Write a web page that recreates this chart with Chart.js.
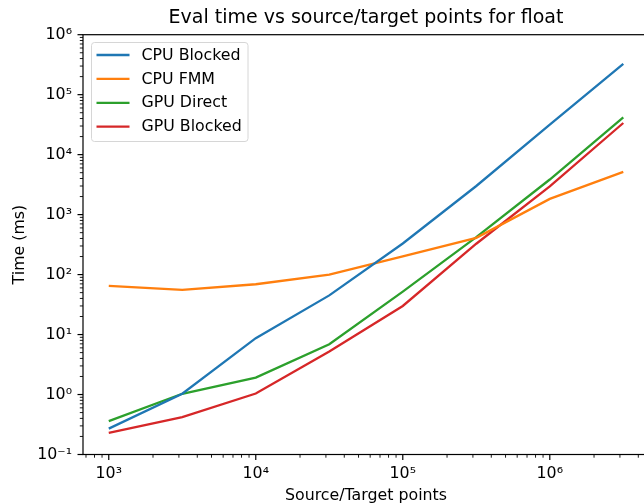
<!DOCTYPE html>
<html>
<head>
<meta charset="utf-8">
<script src="https://cdn.jsdelivr.net/npm/chart.js@4"></script>
<style>
    html, body { margin: 0; padding: 0; background: #ffffff; overflow: hidden; }
    #wrap { width: 650px; height: 504px; }
</style>
</head>
<body>
<div id="wrap"><canvas id="evalChart" width="650" height="504"></canvas></div>
<script>
// Source/target points (x) and eval times in ms for each method
const points = [1000, 3162, 10000, 31623, 100000, 316228, 1000000, 3162278];
const cpuBlocked = [0.27, 1.03, 8.7, 45, 330, 3000, 31600, 325000];
const cpuFmm = [65, 55.6, 69, 100, 202, 410, 1830, 5150];
const gpuDirect = [0.36, 1.03, 1.92, 6.9, 52, 422, 3850, 41900];
const gpuBlocked = [0.23, 0.42, 1.04, 5.2, 30, 327, 2950, 33700];

const seriesNames = ['CPU Blocked', 'CPU FMM', 'GPU Direct', 'GPU Blocked'];
const seriesValues = [cpuBlocked, cpuFmm, gpuDirect, gpuBlocked];
const seriesColors = ['#1f77b4', '#ff7f0e', '#2ca02c', '#d62728'];

// axis limits
const xMin = 668, xMax = 4730000;
const yMin = 0.1, yMax = 1000000;

const FONT = 'DejaVu Sans';
const LABEL_SIZE = 15.8;
Chart.defaults.font.family = FONT;
Chart.defaults.color = '#000000';

function isDecade(v) {
    const e = Math.log10(v);
    return Math.abs(e - Math.round(e)) < 1e-9;
}

function superscript(n) {
    const map = { '0': '⁰', '1': '¹', '2': '²', '3': '³', '4': '⁴', '5': '⁵', '6': '⁶', '7': '⁷', '8': '⁸', '9': '⁹', '-': '⁻' };
    return String(n).split('').map(c => map[c]).join('');
}

// 1..9 x 10^n ticks inside the limits
function logTicks(min, max) {
    const ticks = [];
    for (let e = Math.floor(Math.log10(min)); e <= Math.ceil(Math.log10(max)); e++) {
        for (let m = 1; m < 10; m++) {
            const v = Math.round(m * Math.pow(10, e) * 1e6) / 1e6;
            if (v >= min * 0.999999 && v <= max * 1.000001) ticks.push({ value: v });
        }
    }
    return ticks;
}

function decadeLabel(value) {
    if (!isDecade(value)) return '';
    return '10' + superscript(Math.round(Math.log10(value)));
}

// frame, matplotlib style ticks and legend
const mplPlugin = {
    id: 'mplPlugin',
    afterDraw(chart) {
        const ctx = chart.ctx;
        const area = chart.chartArea;
        const xs = chart.scales.x;
        const ys = chart.scales.y;
        ctx.save();

        // ticks
        ctx.strokeStyle = '#000000';
        xs.ticks.forEach(t => {
            const px = xs.getPixelForValue(t.value);
            const major = isDecade(t.value);
            ctx.lineWidth = major ? 1.2 : 0.9;
            ctx.beginPath();
            ctx.moveTo(px, area.bottom);
            ctx.lineTo(px, area.bottom + (major ? 5.5 : 3.2));
            ctx.stroke();
        });
        ys.ticks.forEach(t => {
            const py = ys.getPixelForValue(t.value);
            const major = isDecade(t.value);
            ctx.lineWidth = major ? 1.2 : 0.9;
            ctx.beginPath();
            ctx.moveTo(area.left, py);
            ctx.lineTo(area.left - (major ? 5.5 : 3.2), py);
            ctx.stroke();
        });

        // axes frame
        ctx.lineWidth = 1.2;
        ctx.strokeRect(area.left, area.top, area.right - area.left, area.bottom - area.top);

        // legend box (upper left)
        const bx = 91.5, by = 42.5, bw = 156.5, bh = 99, r = 3;
        ctx.beginPath();
        ctx.moveTo(bx + r, by);
        ctx.arcTo(bx + bw, by, bx + bw, by + bh, r);
        ctx.arcTo(bx + bw, by + bh, bx, by + bh, r);
        ctx.arcTo(bx, by + bh, bx, by, r);
        ctx.arcTo(bx, by, bx + bw, by, r);
        ctx.closePath();
        ctx.fillStyle = 'rgba(255,255,255,0.8)';
        ctx.fill();
        ctx.strokeStyle = '#d6d6d6';
        ctx.lineWidth = 1;
        ctx.stroke();

        ctx.font = LABEL_SIZE + 'px "' + FONT + '"';
        ctx.textBaseline = 'middle';
        ctx.textAlign = 'left';
        chart.data.datasets.forEach((ds, i) => {
            const cy = 55 + i * 23.9;
            ctx.strokeStyle = ds.borderColor;
            ctx.lineWidth = 2.3;
            ctx.beginPath();
            ctx.moveTo(96.5, cy);
            ctx.lineTo(129.5, cy);
            ctx.stroke();
            ctx.fillStyle = '#000000';
            ctx.fillText(ds.label, 141.5, cy + 0.5);
        });
        ctx.restore();
    }
};

const datasets = seriesNames.map((name, i) => ({
    label: name,
    data: points.map((p, j) => ({ x: p, y: seriesValues[i][j] })),
    borderColor: seriesColors[i],
    backgroundColor: seriesColors[i],
    borderWidth: 2.3,
    pointRadius: 0,
    tension: 0,
    fill: false,
}));

const axisFont = { size: LABEL_SIZE, family: FONT };

const config = {
    type: 'line',
    data: { datasets: datasets },
    options: {
        responsive: false,
        devicePixelRatio: 1,
        animation: false,
        layout: { padding: { left: 0, right: 1, top: 0, bottom: 0 } },
        plugins: {
            legend: { display: false },
            tooltip: { enabled: false },
            title: {
                display: true,
                text: 'Eval time vs source/target points for float',
                fullSize: false,
                color: '#000000',
                font: { size: 19, family: FONT, weight: 'normal', lineHeight: 1.2 },
                padding: { top: 6.5, bottom: 5.4 },
            },
        },
        scales: {
            x: {
                type: 'logarithmic',
                min: xMin,
                max: xMax,
                afterBuildTicks: axis => { axis.ticks = logTicks(axis.min, axis.max); },
                afterFit: axis => { axis.height = 49.5; },
                grid: { display: true, drawOnChartArea: false, drawTicks: true, tickLength: 5.5, tickColor: 'rgba(0,0,0,0)' },
                border: { display: false },
                ticks: {
                    autoSkip: false,
                    maxRotation: 0,
                    minRotation: 0,
                    padding: 4.5,
                    color: '#000000',
                    font: axisFont,
                    callback: value => decadeLabel(value),
                },
                title: {
                    display: true,
                    text: 'Source/Target points',
                    color: '#000000',
                    font: axisFont,
                    padding: { top: 0, bottom: -1.5 },
                },
            },
            y: {
                type: 'logarithmic',
                min: yMin,
                max: yMax,
                afterBuildTicks: axis => { axis.ticks = logTicks(axis.min, axis.max); },
                afterFit: axis => { axis.width = 83; },
                grid: { display: true, drawOnChartArea: false, drawTicks: true, tickLength: 5.5, tickColor: 'rgba(0,0,0,0)' },
                border: { display: false },
                ticks: {
                    autoSkip: false,
                    padding: 5.5,
                    color: '#000000',
                    font: axisFont,
                    callback: value => decadeLabel(value),
                },
                title: {
                    display: true,
                    text: 'Time (ms)',
                    color: '#000000',
                    font: axisFont,
                    padding: { top: 10, bottom: 0 },
                },
            },
        },
    },
    plugins: [mplPlugin],
};

const ctx = document.getElementById('evalChart').getContext('2d');
new Chart(ctx, config);
</script>
</body>
</html>
